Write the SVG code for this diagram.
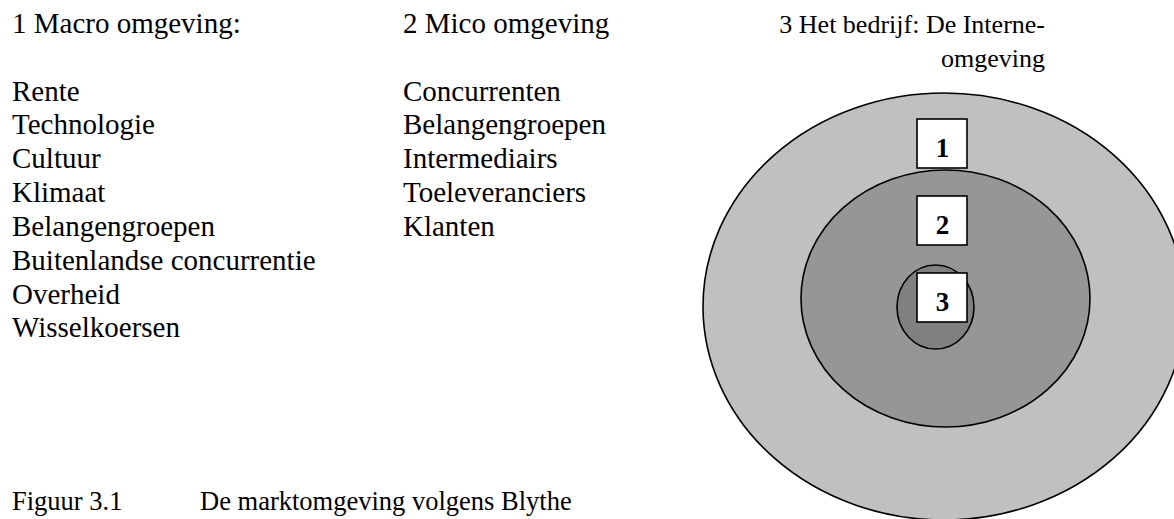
<svg xmlns="http://www.w3.org/2000/svg" width="1174" height="519" viewBox="0 0 1174 519">
<style>
.t{font-family:"Liberation Serif","Times New Roman",serif;font-size:29px;fill:#000}
.s{font-family:"Liberation Serif","Times New Roman",serif;font-size:26px;fill:#000}
.c{font-family:"Liberation Serif","Times New Roman",serif;font-size:26.5px;fill:#000}
.n{font-family:"Liberation Serif","Times New Roman",serif;font-size:27px;font-weight:bold;fill:#000;text-anchor:middle}
.ring{stroke:#000;stroke-width:1.6}
.box{fill:#fff;stroke:#000;stroke-width:1.6}
</style>
<rect width="1174" height="519" fill="#fff"/>
<g id="macro-text">
<text class="t" x="12" y="33">1 Macro omgeving:</text>
<text class="t" x="12" y="100.5">Rente</text>
<text class="t" x="12" y="134.4">Technologie</text>
<text class="t" x="12" y="168.2">Cultuur</text>
<text class="t" x="12" y="202">Klimaat</text>
<text class="t" x="12" y="235.9">Belangengroepen</text>
<text class="t" x="12" y="269.8">Buitenlandse concurrentie</text>
<text class="t" x="12" y="303.6">Overheid</text>
<text class="t" x="12" y="337.4">Wisselkoersen</text>
</g>
<g id="micro-text">
<text class="t" x="403" y="33">2 Mico omgeving</text>
<text class="t" x="403" y="100.5">Concurrenten</text>
<text class="t" x="403" y="134.4">Belangengroepen</text>
<text class="t" x="403" y="168.2">Intermediairs</text>
<text class="t" x="403" y="202">Toeleveranciers</text>
<text class="t" x="403" y="235.9">Klanten</text>
</g>
<g id="intern-text">
<text class="s" x="1045" y="33" text-anchor="end">3 Het bedrijf: De Interne-</text>
<text class="s" x="1045" y="66.8" text-anchor="end">omgeving</text>
</g>
<g id="caption">
<text class="c" x="12" y="510">Figuur 3.1</text>
<text class="c" x="200" y="510">De marktomgeving volgens Blythe</text>
</g>
<g id="ring-outer">
<ellipse class="ring" cx="944" cy="306.5" rx="241" ry="213.5" fill="#c0c0c0"/>
</g>
<g id="box-1">
<rect class="box" x="917" y="119" width="50" height="49"/>
<text class="n" x="942.5" y="156.7">1</text>
</g>
<g id="ring-middle">
<ellipse class="ring" cx="945.5" cy="298.5" rx="144.5" ry="128.5" fill="#969696"/>
</g>
<g id="box-2">
<rect class="box" x="917" y="196" width="50" height="49"/>
<text class="n" x="942.5" y="233.7">2</text>
</g>
<g id="ring-inner">
<ellipse class="ring" cx="935.5" cy="307" rx="38.5" ry="42" fill="#808080"/>
</g>
<g id="box-3">
<rect class="box" x="917" y="273" width="50" height="49"/>
<text class="n" x="942.5" y="310.7">3</text>
</g>
<g id="connectors"></g>
</svg>
